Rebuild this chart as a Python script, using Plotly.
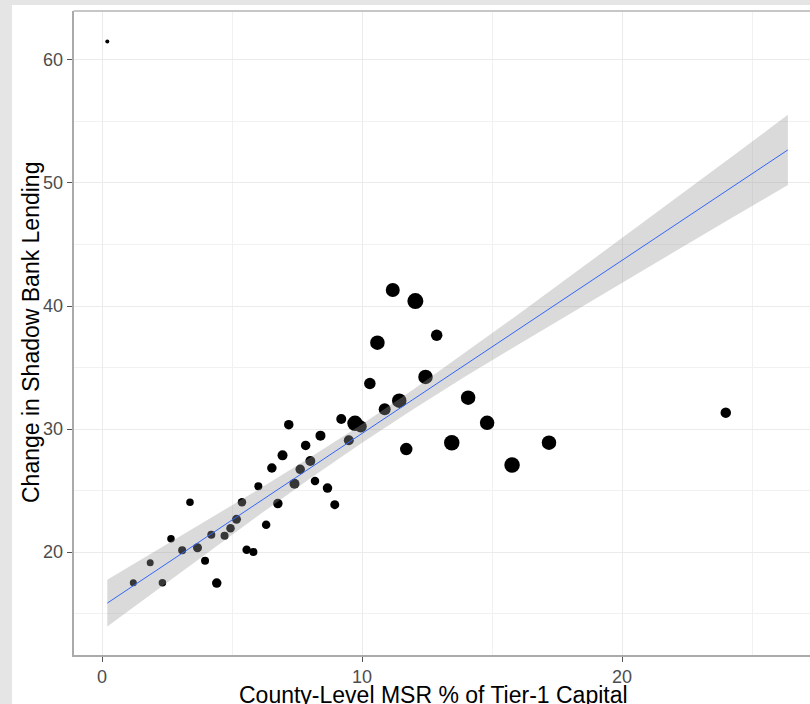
import plotly.graph_objects as go

# ---------------- data ----------------
msr_pct = [0.20, 1.20, 1.85, 2.32, 2.65, 3.08, 3.38, 3.67, 3.96, 4.20,
           4.41, 4.71, 4.94, 5.17, 5.38, 5.56, 5.82, 6.01, 6.31, 6.53,
           6.76, 6.94, 7.18, 7.40, 7.62, 7.83, 8.01, 8.19, 8.40, 8.67,
           8.95, 9.20, 9.49, 9.73, 9.95, 10.30, 10.59, 10.87, 11.18, 11.43,
           11.70, 12.05, 12.44, 12.87, 13.45, 14.08, 14.81, 15.77, 17.19, 23.99]

shadow_change = [61.5, 17.50, 19.13, 17.50, 21.08, 20.14, 24.04, 20.35, 19.30, 21.41,
                 17.48, 21.33, 21.93, 22.66, 24.04, 20.19, 20.00, 25.34, 22.22, 26.83,
                 23.94, 27.86, 30.35, 25.55, 26.72, 28.67, 27.40, 25.77, 29.46, 25.20,
                 23.85, 30.81, 29.08, 30.46, 30.20, 33.70, 37.02, 31.60, 41.30, 32.30,
                 28.37, 40.40, 34.23, 37.62, 28.89, 32.55, 30.50, 27.07, 28.89, 31.33]

county_weight = [4.0, 7.0, 7.0, 7.5, 7.5, 8.0, 7.5, 9.0, 8.0, 8.0,
                 9.5, 8.0, 8.5, 9.0, 8.5, 8.5, 8.0, 8.0, 8.5, 9.5,
                 9.5, 10.0, 9.5, 10.0, 9.5, 9.5, 10.0, 8.5, 10.0, 9.5,
                 9.0, 10.0, 10.0, 15.5, 12.0, 11.5, 14.5, 12.0, 14.0, 14.5,
                 12.5, 16.0, 14.5, 11.5, 15.5, 14.5, 14.5, 15.5, 14.5, 10.5]

fit_x = [0.2, 2, 4, 6, 8, 10, 12, 14, 16, 18, 20, 22, 24, 26.38]
fit_y = [15.85, 18.38, 21.20, 24.01, 26.83, 29.64, 32.45, 35.27, 38.08,
         40.90, 43.71, 46.52, 49.34, 52.69]
ci_lower = [13.95, 16.76, 19.87, 22.95, 25.98, 28.89, 31.65, 34.30, 36.86,
            39.39, 41.90, 44.39, 46.89, 49.84]
ci_upper = [17.75, 20.00, 22.53, 25.07, 27.68, 30.39, 33.25, 36.24, 39.30,
            42.41, 45.52, 48.65, 51.79, 55.54]

x_ticks = [0, 10, 20]
y_ticks = [20, 30, 40, 50, 60]

x_title = "County-Level MSR % of Tier-1 Capital"
y_title = "Change in Shadow Bank Lending"

# ---------------- figure ----------------
W, H = 810, 704
PL, PR, PT, PB = 73.5, 810, 11, 655  # plot panel in pixels


def px_x(p):
    return p / W


def px_y(p):
    return (H - p) / H


FONT = "Liberation Sans, Arial, Helvetica, sans-serif"

fig = go.Figure()

fig.add_trace(go.Scatter(
    x=msr_pct, y=shadow_change, mode="markers",
    marker=dict(size=county_weight, sizemode="diameter", sizeref=1,
                color="black", opacity=1, line=dict(width=0)),
    hoverinfo="x+y", showlegend=False,
))

fig.add_trace(go.Scatter(
    x=fit_x, y=ci_lower, mode="lines", line=dict(width=0, color="rgba(0,0,0,0)"),
    hoverinfo="skip", showlegend=False,
))
fig.add_trace(go.Scatter(
    x=fit_x, y=ci_upper, mode="lines", line=dict(width=0, color="rgba(0,0,0,0)"),
    fill="tonexty", fillcolor="rgba(153,153,153,0.36)",
    hoverinfo="skip", showlegend=False,
))
fig.add_trace(go.Scatter(
    x=fit_x, y=fit_y, mode="lines", line=dict(color="#3366FF", width=1),
    hoverinfo="skip", showlegend=False,
))

axis_common = dict(
    showline=True, linecolor="#aaaaaa", linewidth=1.5,
    ticks="outside", ticklen=5, tickwidth=1.2, tickcolor="#555555",
    tickfont=dict(family=FONT, size=18, color="#4d4d4d"),
    showgrid=True, gridcolor="#ebebeb", gridwidth=1.2,
    zeroline=False, automargin=False,
    minor=dict(dtick=5, tick0=0, showgrid=True, gridcolor="#f1f1f1",
               gridwidth=1, ticks=""),
)

fig.update_layout(
    template="none",
    width=W, height=H,
    margin=dict(l=0, r=0, t=0, b=0),
    paper_bgcolor="white", plot_bgcolor="white",
    showlegend=False,
    xaxis=dict(domain=[px_x(PL), 1.0], range=[-1.1, 27.23],
               tickmode="array", tickvals=x_ticks,
               ticktext=[str(v) for v in x_ticks], **axis_common),
    yaxis=dict(domain=[px_y(PB), px_y(PT)], range=[11.63, 63.98],
               tickmode="array", tickvals=y_ticks,
               ticktext=[str(v) for v in y_ticks], **axis_common),
    shapes=[
        # outer gray frame strips
        dict(type="rect", xref="paper", yref="paper", x0=0, x1=px_x(12),
             y0=0, y1=1, fillcolor="#e5e5e5", line=dict(width=0), layer="above"),
        dict(type="rect", xref="paper", yref="paper", x0=0, x1=1,
             y0=px_y(5), y1=1, fillcolor="#e5e5e5", line=dict(width=0), layer="above"),
        # top panel border
        dict(type="line", xref="paper", yref="paper", x0=px_x(PL), x1=1,
             y0=px_y(PT), y1=px_y(PT), line=dict(color="#b5b5b5", width=1.5)),
    ],
    annotations=[
        dict(text=x_title, xref="paper", yref="paper", x=px_x(434), y=px_y(694.5),
             xanchor="center", yanchor="middle", showarrow=False,
             font=dict(family=FONT, size=23, color="black")),
        dict(text=y_title, xref="paper", yref="paper", x=px_x(31), y=px_y(333),
             xanchor="center", yanchor="middle", textangle=-90, showarrow=False,
             font=dict(family=FONT, size=23, color="black")),
    ],
)

fig.write_html(
    "out.html",
    config={"displayModeBar": False},
    post_script="document.body.style.margin='0px';"
                "document.body.style.overflow='hidden';"
                "document.body.style.background='#e5e5e5';",
)
